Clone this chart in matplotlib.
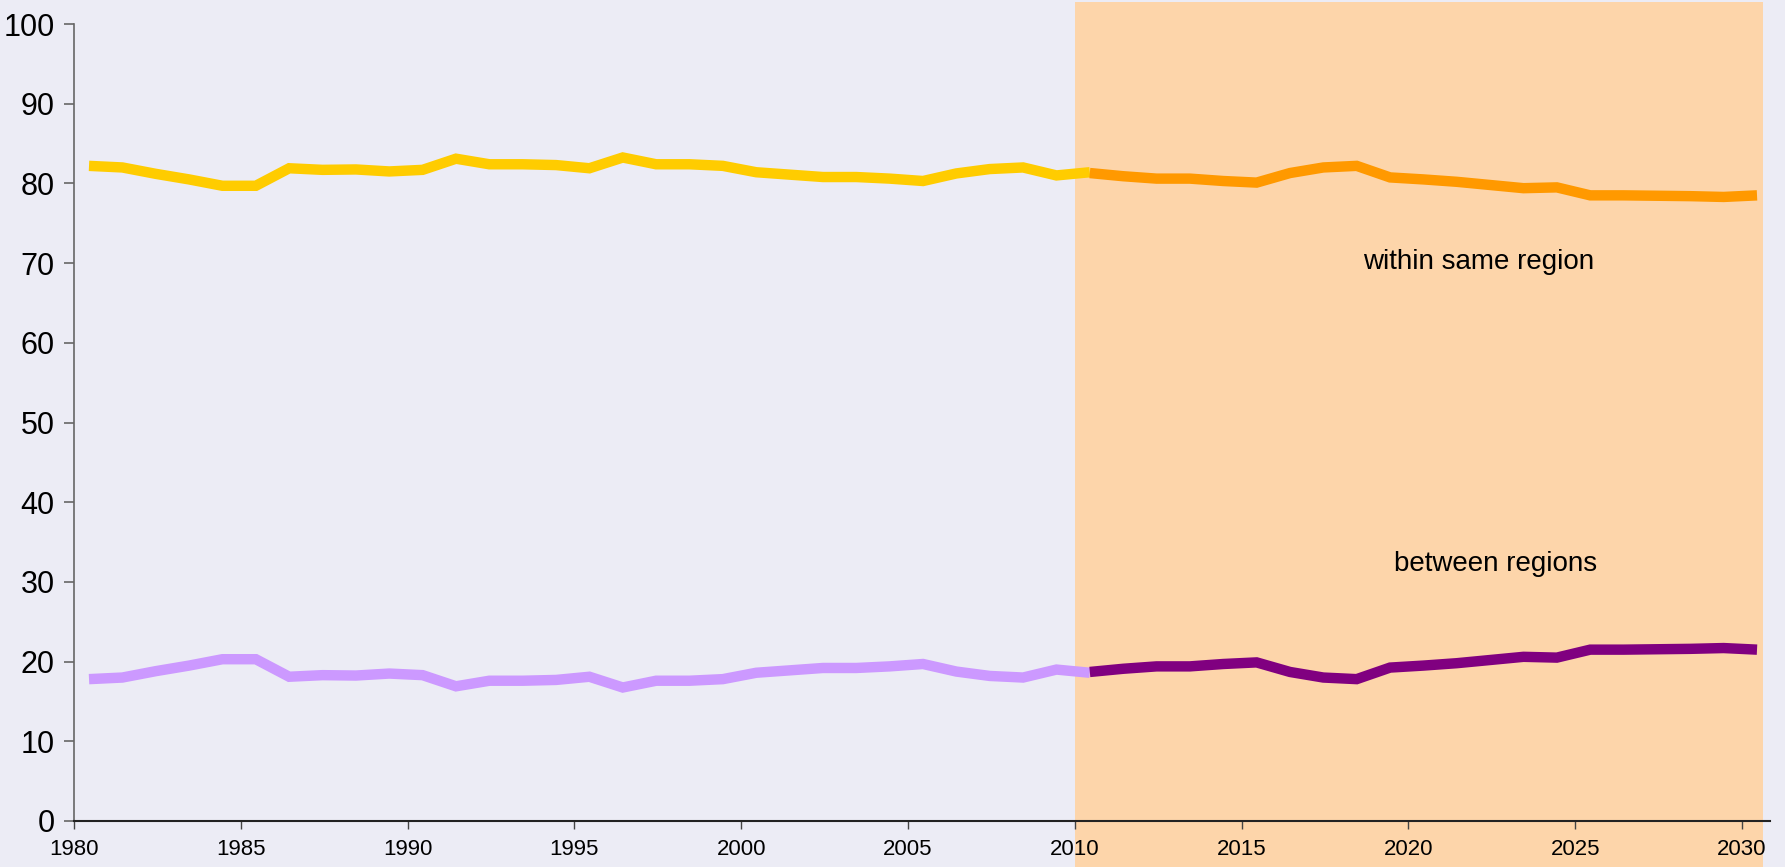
import matplotlib
matplotlib.use("Agg")
import matplotlib.pyplot as plt
import matplotlib.transforms as mtransforms
import numpy as np

# ---- data ----
hist_years = list(range(1980, 2011))
hist_within = [82.2, 82.0, 81.2, 80.5, 79.7, 79.7, 81.9, 81.7, 81.75, 81.5, 81.7,
               83.1, 82.4, 82.4, 82.3, 81.9, 83.25, 82.4, 82.4, 82.2, 81.4,
               81.1, 80.8, 80.8, 80.6, 80.3, 81.25, 81.8, 82.0, 81.0, 81.4]
hist_between = [17.8, 18.0, 18.8, 19.5, 20.3, 20.3, 18.1, 18.3, 18.25, 18.5, 18.3,
                16.9, 17.6, 17.6, 17.7, 18.1, 16.75, 17.6, 17.6, 17.8, 18.6,
                18.9, 19.2, 19.2, 19.4, 19.7, 18.75, 18.2, 18.0, 19.0, 18.6]
proj_years = list(range(2010, 2031))
proj_within = [81.3, 80.9, 80.6, 80.6, 80.3, 80.1, 81.3, 82.0, 82.2, 80.75, 80.5,
               80.2, 79.8, 79.4, 79.5, 78.5, 78.5, 78.45, 78.4, 78.3, 78.5]
proj_between = [18.7, 19.1, 19.4, 19.4, 19.7, 19.9, 18.7, 18.0, 17.8, 19.25, 19.5,
                19.8, 20.2, 20.6, 20.5, 21.5, 21.5, 21.55, 21.6, 21.7, 21.5]
x_ticks = list(range(1980, 2031, 5))
y_ticks = list(range(0, 101, 10))
label_within = "within same region"
label_between = "between regions"

BG = "#ECECF5"
SHADE = "#FDD5AA"
FONT = ["Liberation Sans Narrow", "Liberation Sans", "DejaVu Sans"]
plt.rcParams['font.family'] = FONT

W, H = 1785, 867
fig = plt.figure(figsize=(W / 100, H / 100), dpi=100, facecolor=BG)
left, right, bottom, top = 74, 1770, 821, 24
ax = fig.add_axes([left / W, (H - bottom) / H, (right - left) / W, (bottom - top) / H])
ax.set_facecolor(BG)

x0, x1 = 1980, 1980 + (right - left) / 33.36
ax.set_xlim(x0, x1)
ax.set_ylim(0, 100)

# shaded projection area (extends over the tick labels)
trans = mtransforms.blended_transform_factory(ax.transData, ax.transAxes)
axh = bottom - top
ax.add_patch(plt.Rectangle((2010, -(H - bottom) / axh), 20.62,
                           (H - 2) / axh, transform=trans, facecolor=SHADE,
                           edgecolor='none', clip_on=False, zorder=0))

off = 0.45
lw = 7.5
ax.plot(np.array(hist_years) + off, hist_within, color="#FFCC00", lw=lw,
        solid_capstyle='butt', solid_joinstyle='miter', zorder=3)
ax.plot(np.array(hist_years) + off, hist_between, color="#CC99FF", lw=lw,
        solid_capstyle='butt', solid_joinstyle='miter', zorder=3)
ax.plot(np.array(proj_years) + off, proj_within, color="#FF9900", lw=lw,
        solid_capstyle='butt', solid_joinstyle='miter', zorder=3)
ax.plot(np.array(proj_years) + off, proj_between, color="#800080", lw=lw,
        solid_capstyle='butt', solid_joinstyle='miter', zorder=3)

ax.text(2022.1, 70.1, label_within, fontsize=20, ha='center', va='center', color='black')
ax.text(2022.6, 32.3, label_between, fontsize=20, ha='center', va='center', color='black')

for s in ['top', 'right']:
    ax.spines[s].set_visible(False)
ax.spines['left'].set_color('#666666')
ax.spines['left'].set_linewidth(1.2)
ax.spines['bottom'].set_color('#222222')
ax.spines['bottom'].set_linewidth(1.5)

ax.set_xticks(x_ticks)
ax.set_xticklabels([str(v) for v in x_ticks])
ax.set_yticks(y_ticks)
ax.set_yticklabels([str(v) for v in y_ticks])
ax.tick_params(axis='y', length=7, width=1.2, color='#666666', pad=7, labelsize=22)
ax.tick_params(axis='x', length=6, width=1.0, color='#444444', pad=7, labelsize=16)

fig.savefig("out.png", dpi=100, facecolor=BG)
